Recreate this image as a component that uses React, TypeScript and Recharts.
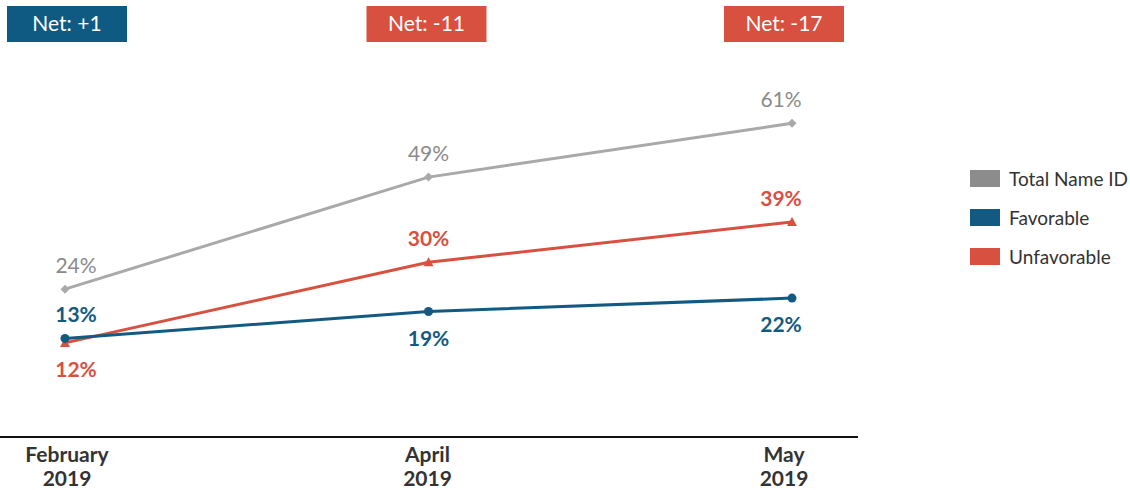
import { LineChart, Line, XAxis, YAxis, LabelList, Legend } from "recharts";

const months = ["February 2019", "April 2019", "May 2019"];
const totalNameId = [24, 49, 61];
const favorable = [13, 19, 22];
const unfavorable = [12, 30, 39];
const netValues = [1, -11, -17];

const GRAY_LINE = "#a9a9a9";
const GRAY_TEXT = "#8a8a8a";
const BLUE = "#125a81";
const RED = "#d8503f";
const FONT = "Lato, 'Open Sans', sans-serif";

const data = months.map((month, i) => ({
  month,
  total: totalNameId[i],
  favorable: favorable[i],
  unfavorable: unfavorable[i],
}));

const legendItems = [
  { label: "Total Name ID", color: "#8c8c8c" },
  { label: "Favorable", color: BLUE },
  { label: "Unfavorable", color: RED },
];

const last = months.length - 1;

function makeLabel(color: string, weight: number, placement: string[]) {
  return (props: any) => {
    const x = props.x ?? props.viewBox?.x;
    const y = props.y ?? props.viewBox?.y;
    const i = props.index;
    const dx = i === 0 ? 11 : i === last ? -11 : 0;
    const dy = placement[i] === "above" ? -16 : 34;
    return (
      <text x={x + dx} y={y + dy} textAnchor="middle" fill={color} fontSize={21} fontWeight={weight} fontFamily={FONT}>
        {props.value}%
      </text>
    );
  };
}

const diamondDot = (props: any) => {
  const { cx, cy, index } = props;
  return <path key={`d${index}`} d={`M${cx},${cy - 4.5}L${cx + 4.5},${cy}L${cx},${cy + 4.5}L${cx - 4.5},${cy}Z`} fill={GRAY_LINE} />;
};

const triangleDot = (props: any) => {
  const { cx, cy, index } = props;
  return <path key={`t${index}`} d={`M${cx},${cy - 5}L${cx + 5},${cy + 4}L${cx - 5},${cy + 4}Z`} fill={RED} />;
};

const NetTick = (props: any) => {
  const { x, payload } = props;
  const i = payload.index;
  const v = netValues[i];
  const dx = i === last ? -8 : i === 0 ? 2 : -2;
  const cx = x + dx;
  return (
    <g>
      <rect x={cx - 60} y={6} width={120} height={36} fill={v > 0 ? "#0f5a82" : RED} />
      <text x={cx} y={31} textAnchor="middle" fill="#fff" fontSize={21} fontFamily={FONT}>
        Net: {v > 0 ? `+${v}` : v}
      </text>
    </g>
  );
};

const MonthTick = (props: any) => {
  const { x, y, payload } = props;
  const [m, yr] = String(payload.value).split(" ");
  const i = payload.index;
  const dx = i === 0 ? 2 : i === last ? -8 : -1;
  return (
    <text x={x + dx} textAnchor="middle" fill="#333" fontSize={21} fontWeight={700} fontFamily={FONT}>
      <tspan x={x + dx} y={y + 17}>{m}</tspan>
      <tspan x={x + dx} y={y + 41}>{yr}</tspan>
    </text>
  );
};

const LegendContent = () => (
  <div style={{ fontFamily: FONT }}>
    {legendItems.map((it) => (
      <div key={it.label} style={{ display: "flex", alignItems: "center", height: 39 }}>
        <span style={{ width: 30, height: 17, background: it.color, marginRight: 9 }} />
        <span style={{ fontSize: 19, color: "#333" }}>{it.label}</span>
      </div>
    ))}
  </div>
);

export default function App() {
  return (
    <div style={{ position: "absolute", left: 0, top: 0, background: "#fff" }}>
      <LineChart width={1130} height={490} data={data} margin={{ top: 6, right: 272, bottom: 0, left: 0 }}>
        <XAxis
          xAxisId="top"
          orientation="top"
          dataKey="month"
          height={77}
          axisLine={false}
          tickLine={false}
          padding={{ left: 65, right: 66 }}
          tick={NetTick}
          interval={0}
        />
        <XAxis
          dataKey="month"
          height={53}
          axisLine={{ stroke: "#111", strokeWidth: 2 }}
          tickLine={false}
          padding={{ left: 65, right: 66 }}
          tick={MonthTick}
          interval={0}
        />
        <YAxis hide domain={[-9, 70]} />
        <Legend
          layout="horizontal"
          align="center"
          verticalAlign="middle"
          content={<LegendContent />}
          wrapperStyle={{ left: 970, top: 159, width: 160 }}
        />
        <Line
          type="linear"
          dataKey="total"
          name="Total Name ID"
          stroke={GRAY_LINE}
          strokeWidth={3}
          dot={diamondDot}
          activeDot={false}
          isAnimationActive={false}
        >
          <LabelList dataKey="total" content={makeLabel(GRAY_TEXT, 400, ["above", "above", "above"])} />
        </Line>
        <Line
          type="linear"
          dataKey="unfavorable"
          name="Unfavorable"
          stroke={RED}
          strokeWidth={3}
          dot={triangleDot}
          activeDot={false}
          isAnimationActive={false}
        >
          <LabelList dataKey="unfavorable" content={makeLabel(RED, 700, ["below", "above", "above"])} />
        </Line>
        <Line
          type="linear"
          dataKey="favorable"
          name="Favorable"
          stroke={BLUE}
          strokeWidth={3}
          dot={{ r: 4.5, fill: BLUE, stroke: BLUE, strokeWidth: 0 }}
          activeDot={false}
          isAnimationActive={false}
        >
          <LabelList dataKey="favorable" content={makeLabel(BLUE, 700, ["above", "below", "below"])} />
        </Line>
      </LineChart>
    </div>
  );
}
